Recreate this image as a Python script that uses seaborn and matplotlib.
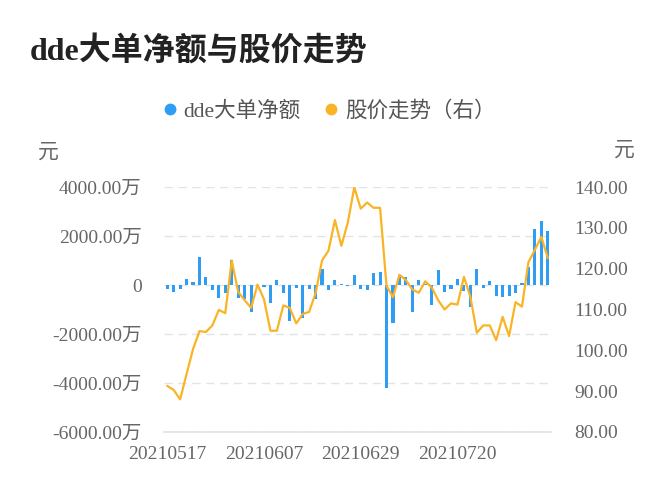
import numpy as np
import pandas as pd
import matplotlib
matplotlib.use("Agg")
import matplotlib.pyplot as plt
from matplotlib.lines import Line2D
import seaborn as sns

dates = [
    "20210517", "20210518", "20210519", "20210520", "20210521", "20210524", "20210525", "20210526",
    "20210527", "20210528", "20210531", "20210601", "20210602", "20210603", "20210604", "20210607",
    "20210608", "20210609", "20210610", "20210611", "20210615", "20210616", "20210617", "20210618",
    "20210621", "20210622", "20210623", "20210624", "20210625", "20210628", "20210629", "20210630",
    "20210701", "20210702", "20210705", "20210706", "20210707", "20210708", "20210709", "20210712",
    "20210713", "20210714", "20210715", "20210716", "20210719", "20210720", "20210721", "20210722",
    "20210723", "20210726", "20210727", "20210728", "20210729", "20210730", "20210802", "20210803",
    "20210804", "20210805", "20210806", "20210809",
]

# dde big-order net amount, unit: 万元
dde_net = [
    -177, -286, -177, 258, 122, 1156, 340, -204, -530, -340,
    1020, -530, -585, -1100, -50, -68, -721, 204, -340, -1456,
    -122, -1347, -160, -570, 650, -190, 215, 55, -41, 415,
    -160, -215, 476, 520, -4200, -1564, 380, 310, -1100, 220,
    50, -830, 612, -286, -150, 231, -231, -911, 666, -122,
    177, -449, -476, -449, -340, 68, 748, 2271, 2597, 2190,
]

# stock price, unit: 元
price = [
    91.3, 90.3, 88.0, 94.2, 100.3, 104.7, 104.5, 106.1, 109.9, 109.1,
    122.0, 114.3, 112.3, 110.4, 116.1, 112.5, 104.8, 104.8, 111.0, 110.4,
    106.6, 108.9, 109.4, 114.0, 122.0, 124.4, 131.9, 125.6, 131.3, 139.9,
    134.7, 136.2, 134.9, 134.9, 115.8, 113.0, 118.5, 117.2, 114.9, 114.1,
    116.9, 115.4, 112.3, 110.0, 111.5, 111.2, 118.0, 113.1, 104.3, 106.1,
    106.1, 102.5, 108.2, 103.5, 111.8, 110.7, 121.6, 124.6, 127.8, 122.6,
]

left_ticks = [-6000, -4000, -2000, 0, 2000, 4000]
right_ticks = [80, 90, 100, 110, 120, 130, 140]
xtick_idx = [0, 15, 30, 45]

title = "dde大单净额与股价走势"
legend_labels = ["dde大单净额", "股价走势（右）"]

BLUE = "#2F9DF4"
ORANGE = "#F9B425"
TXT = "#666666"
TICK_FS = 14

sns.set_theme(style="white")
plt.rcParams["font.family"] = ["Liberation Serif", "Noto Sans CJK SC", "DejaVu Sans"]

df = pd.DataFrame({"idx": np.arange(len(dates)), "date": dates, "dde": dde_net, "price": price})

fig = plt.figure(figsize=(6.72, 5.0), dpi=100)
ax = fig.add_axes([164 / 672, 1 - 432 / 500, (551 - 164) / 672, (432 - 187) / 500])

sns.barplot(data=df, x="idx", y="dde", ax=ax, color=BLUE, saturation=1, width=0.48,
            linewidth=0, edgecolor=BLUE)
ax.set_xlim(-0.5, len(dates) - 0.5)
ax.set_ylim(left_ticks[0], left_ticks[-1])
ax.set_yticks(left_ticks)
ax.set_yticklabels(["0" if v == 0 else f"{v:.2f}万" for v in left_ticks])
ax.yaxis.grid(True, linestyle=(0, (6, 4)), color="#E3E3E3", linewidth=1)
ax.set_axisbelow(True)
for s in ["top", "right", "left"]:
    ax.spines[s].set_visible(False)
ax.spines["bottom"].set_color("#E3E3E3")
ax.set_xticks(xtick_idx)
ax.set_xticklabels([dates[i] for i in xtick_idx])
ax.set_xlabel("")
ax.set_ylabel("")
ax.tick_params(axis="x", length=0, pad=10, labelsize=TICK_FS, labelcolor=TXT)
ax.tick_params(axis="y", length=0, pad=16, labelsize=TICK_FS, labelcolor=TXT)

ax2 = ax.twinx()
sns.lineplot(data=df, x="idx", y="price", ax=ax2, color=ORANGE, linewidth=1.6)
ax2.set_ylim(right_ticks[0], right_ticks[-1])
ax2.set_yticks(right_ticks)
ax2.set_yticklabels([f"{v:.2f}" for v in right_ticks])
ax2.set_xlim(-0.5, len(dates) - 0.5)
ax2.grid(False)
for s in ["top", "right", "left", "bottom"]:
    ax2.spines[s].set_visible(False)
ax2.set_xlabel("")
ax2.set_ylabel("")
ax2.tick_params(axis="y", length=0, pad=17, labelsize=TICK_FS, labelcolor=TXT)

fig.text(30 / 672, 1 - 51 / 500, title, fontsize=23, fontweight="bold", color="#222222",
         ha="left", va="center")
fig.text(48 / 672, 1 - 153 / 500, "元", fontsize=15, color=TXT, ha="center", va="center")
fig.text(624 / 672, 1 - 151 / 500, "元", fontsize=15, color=TXT, ha="center", va="center")

handles = [
    Line2D([], [], marker="o", linestyle="", markersize=7.5, color=BLUE),
    Line2D([], [], marker="o", linestyle="", markersize=7.5, color=ORANGE),
]
leg = fig.legend(handles, legend_labels, loc="center", bbox_to_anchor=(327 / 672, 1 - 111 / 500),
                 ncol=2, frameon=False, fontsize=15.5, handletextpad=0.15, columnspacing=0.9,
                 handlelength=1.0)
for t in leg.get_texts():
    t.set_color("#555555")

fig.savefig("out.png", dpi=100)
